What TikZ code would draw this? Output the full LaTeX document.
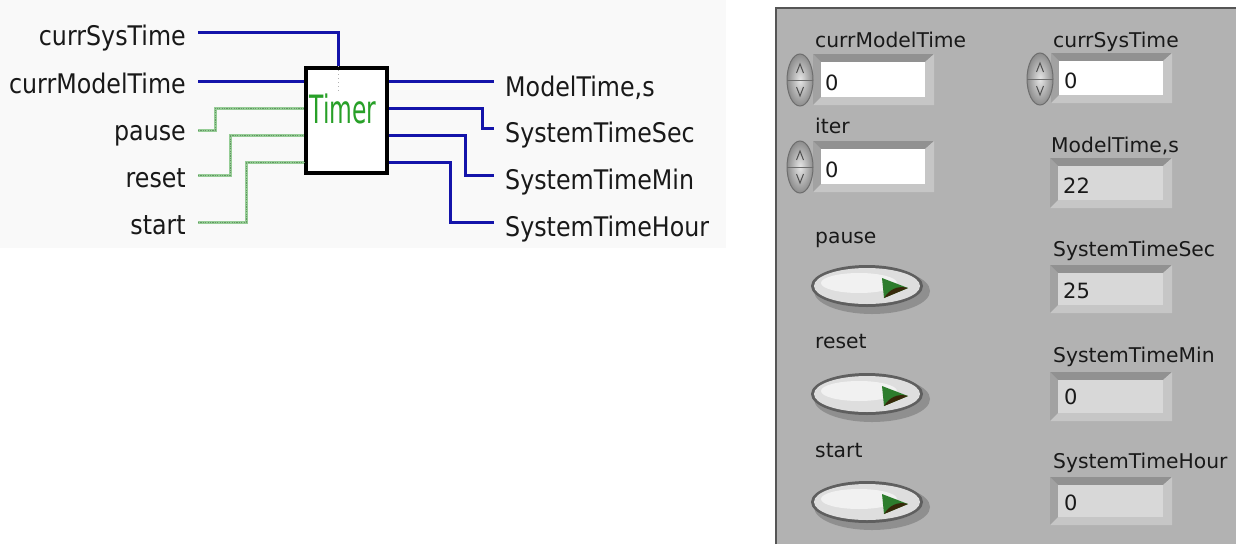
\documentclass[tikz,border=0pt]{standalone}
\usepackage{fontspec}
\setmainfont{DejaVu Sans}
\newfontfamily\dfont[FakeStretch=0.88]{DejaVu Sans}
\newfontfamily\pfont{DejaVu Sans}
\newfontfamily\tfont[FakeStretch=0.6]{DejaVu Sans}
\definecolor{wireblue}{RGB}{20,20,170}
\definecolor{wiregreen}{RGB}{150,205,150}
\definecolor{wiregreendk}{RGB}{100,150,100}
\definecolor{panelgray}{RGB}{178,178,178}
\definecolor{panelborder}{RGB}{85,85,85}
\definecolor{diagbg}{RGB}{249,249,249}
\definecolor{ftop}{RGB}{145,145,145}
\definecolor{fleft}{RGB}{162,162,162}
\definecolor{flight}{RGB}{198,198,198}
\definecolor{indfill}{RGB}{216,216,216}
\definecolor{timergreen}{RGB}{40,160,40}
\definecolor{ledgreen}{RGB}{45,125,45}
\definecolor{ledbrown}{RGB}{55,40,10}
\definecolor{txtdark}{RGB}{25,25,25}
\definecolor{spinin}{RGB}{230,230,230}
\definecolor{spinout}{RGB}{140,140,140}
\definecolor{spinedge}{RGB}{110,110,110}
\definecolor{spinarrow}{RGB}{80,80,80}
\definecolor{btnshadow}{RGB}{110,110,110}
\definecolor{btnring}{RGB}{95,95,95}
\definecolor{btnface}{RGB}{222,222,222}
\tikzset{
  bw/.style={wireblue, line width=3pt},
  gw/.style={wiregreen, line width=3pt},
  gwd/.style={wiregreendk, line width=1pt, dash pattern=on 1.2pt off 1.2pt},
  lbl/.style={font=\dfont\fontsize{27}{30}\selectfont, text=txtdark, inner sep=0pt},
  plbl/.style={font=\pfont\fontsize{20.3}{22}\selectfont, text=txtdark, inner sep=0pt, anchor=base west},
  val/.style={font=\pfont\fontsize{21}{22}\selectfont, text=txtdark, inner sep=0pt, anchor=base west},
}
\newcommand\ctlframe[5]{%
  \fill[ftop] (#1,#2) rectangle (#3,#4);
  \fill[fleft] (#1,#2) -- ({#1+8},{#2+8}) -- ({#1+8},{#4-8}) -- (#1,#4) -- cycle;
  \fill[flight] (#3,#2) -- (#3,#4) -- (#1,#4) -- ({#1+8},{#4-8}) -- ({#3-9},{#4-8}) -- ({#3-9},{#2+8}) -- cycle;
  \fill[#5] ({#1+8},{#2+8}) rectangle ({#3-9},{#4-8});
}
\newcommand\spinner[2]{%
  \shade[inner color=spinin, outer color=spinout] (#1,#2) ellipse (13 and 26);
  \draw[spinedge, line width=1pt] (#1,#2) ellipse (13 and 26);
  \draw[spinedge, line width=1pt] ({#1-13},#2) -- ({#1+13},#2);
  \draw[spinarrow, line width=1pt] ({#1-3.5},{#2-7}) -- (#1,{#2-16}) -- ({#1+3.5},{#2-7});
  \draw[spinarrow, line width=1pt] ({#1-3.5},{#2+7}) -- (#1,{#2+16}) -- ({#1+3.5},{#2+7});
}
\newcommand\ledbutton[2]{%
  \fill[btnshadow, opacity=0.5] ({#1+5},{#2+5}) ellipse (58 and 23);
  \fill[btnring] (#1,#2) ellipse (56 and 21);
  \fill[btnface] (#1,#2) ellipse (53 and 18);
  \fill[white, opacity=0.6] ({#1-8},{#2-3}) ellipse (38 and 10);
  \fill[ledgreen] ({#1+15},{#2-8}) -- ({#1+41},{#2+2}) -- ({#1+17},{#2+12}) -- cycle;
  \fill[ledbrown] ({#1+17},{#2+12}) -- ({#1+41},{#2+2}) .. controls ({#1+30},{#2-1}) and ({#1+22},{#2+4}) .. ({#1+17},{#2+12}) -- cycle;
}
\begin{document}
\begin{tikzpicture}[x=1pt, y=-1pt]
\useasboundingbox (0,0) rectangle (1236,544);
\fill[white] (0,0) rectangle (1236,544);
% ---------- block diagram ----------
\fill[diagbg] (0,0) rectangle (726,248);

\node[lbl, anchor=base east] (lcst) at (186,45) {currSysTime};
\node[lbl, anchor=base east] (lcmt) at (186,93) {currModelTime};
\node[lbl, anchor=base east] (lpause) at (186,140) {pause};
\node[lbl, anchor=base east] (lreset) at (186,187) {reset};
\node[lbl, anchor=base east] (lstart) at (186,234) {start};

\node[lbl, anchor=base west] (omt) at (505,96) {ModelTime,s};
\node[lbl, anchor=base west] (osec) at (505,142) {SystemTimeSec};
\node[lbl, anchor=base west] (omin) at (505,189) {SystemTimeMin};
\node[lbl, anchor=base west] (ohour) at (505,236) {SystemTimeHour};

\coordinate (w1) at (198,32);
\coordinate (w2) at (198,81);
\coordinate (w3) at (198,130);
\coordinate (w4) at (198,175);
\coordinate (w5) at (198,222);
\coordinate (e1) at (494,81);
\coordinate (e2) at (494,128);
\coordinate (e3) at (494,175);
\coordinate (e4) at (494,222);

\node[draw=black, line width=3.4pt, fill=white, minimum width=81pt, minimum height=105pt, inner sep=0pt] (timer) at (346.5,120.5) {};
\draw[gray!60, line width=0.8pt, dash pattern=on 1pt off 3pt] ([xshift=-8.5pt]timer.north) -- ++(0,28);
\node[font=\tfont\fontsize{39}{40}\selectfont, text=timergreen, inner sep=0pt] (ttxt) at (343,109) {Timer};

\draw[bw] (w1) -| ([xshift=-8.5pt]timer.north);
\draw[bw] (w2) -- ([yshift=39.5pt]timer.west);
\draw[gw] (w3) -| (215,108) -- ([yshift=12.5pt]timer.west);
\draw[gw] (w4) -| (230,135) -- ([yshift=-14.5pt]timer.west);
\draw[gw] (w5) -| (246,162) -- ([yshift=-41.5pt]timer.west);
\draw[gwd] (w3) -| (215,108) -- ([yshift=12.5pt]timer.west);
\draw[gwd] (w4) -| (230,135) -- ([yshift=-14.5pt]timer.west);
\draw[gwd] (w5) -| (246,162) -- ([yshift=-41.5pt]timer.west);

\draw[bw] ([yshift=39.5pt]timer.east) -- (e1);
\draw[bw] ([yshift=12.5pt]timer.east) -| (482,128) -- (e2);
\draw[bw] ([yshift=-14.5pt]timer.east) -| (465,175) -- (e3);
\draw[bw] ([yshift=-41.5pt]timer.east) -| (450,222) -- (e4);

% ---------- front panel ----------
\fill[panelgray] (776,8) rectangle (1236,544);
\draw[panelborder, line width=1.5pt] (776,544) -- (776,8) -- (1236,8);

\node[plbl] (pcmt) at (815,47) {currModelTime};
\node[plbl] (pcst) at (1053,47) {currSysTime};
\node[plbl] (piter) at (815,133) {iter};
\node[plbl] (pmt) at (1051,152) {ModelTime,s};
\node[plbl] (ppause) at (815,243) {pause};
\node[plbl] (psec) at (1053,256) {SystemTimeSec};
\node[plbl] (preset) at (815,348) {reset};
\node[plbl] (pmin) at (1053,362) {SystemTimeMin};
\node[plbl] (pstart) at (815,457) {start};
\node[plbl] (phour) at (1053,468) {SystemTimeHour};

\ctlframe{813}{54}{934}{105}{white}
\ctlframe{813}{141}{934}{192}{white}
\ctlframe{1051}{53}{1172}{103}{white}
\ctlframe{1050}{158}{1172}{208}{indfill}
\ctlframe{1050}{265}{1172}{313}{indfill}
\ctlframe{1050}{372}{1172}{421}{indfill}
\ctlframe{1050}{477}{1172}{525}{indfill}

\spinner{800}{80}
\spinner{800}{167}
\spinner{1040}{79}

\node[val] (vcmt) at (825,90) {0};
\node[val] (viter) at (825,177) {0};
\node[val] (vcst) at (1064,88) {0};
\node[val] (vmt) at (1063,193) {22};
\node[val] (vsec) at (1063,298) {25};
\node[val] (vmin) at (1064,404) {0};
\node[val] (vhour) at (1064,510) {0};

\ledbutton{867}{286}
\ledbutton{867}{394}
\ledbutton{867}{502}
\end{tikzpicture}
\end{document}
